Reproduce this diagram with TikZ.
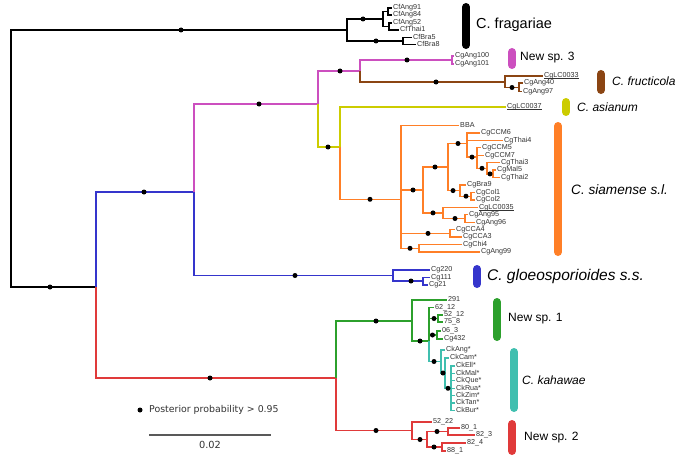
\documentclass[tikz,border=0pt]{standalone}
\usepackage{fontspec}
\setmainfont{Liberation Sans}
\newfontfamily\legfont{DejaVu Sans}
\definecolor{cmag}{HTML}{CC4FBF}
\definecolor{cbrn}{HTML}{8B4513}
\definecolor{cyel}{HTML}{CCCC00}
\definecolor{corg}{HTML}{FF7F27}
\definecolor{cblu}{HTML}{3535CC}
\definecolor{cgrn}{HTML}{2CA02C}
\definecolor{ctea}{HTML}{40BFAF}
\definecolor{cred}{HTML}{E03A3A}
\definecolor{ctxt}{HTML}{333333}
\newcommand\ulx[1]{\setbox0\hbox{#1}\rlap{\rule[-0.9pt]{\wd0}{0.45pt}}\box0}
\tikzset{
 br/.style={line width=1.35pt},
 tip/.style={anchor=west, inner sep=1pt, font=\fontsize{7.2}{7.5}\selectfont, text=ctxt, text height=5.1pt, text depth=1.5pt},
 ppdot/.style={circle, fill=black, inner sep=0pt, minimum size=5pt},
 cbar/.style={line width=8pt, line cap=round},
 clab/.style={anchor=west, inner sep=0pt, font=\fontsize{12}{14}\selectfont},
}
\newcommand\ppd[2]{\node[ppdot] (#1) at (#2) {};}
\begin{document}
\begin{tikzpicture}[x=1pt,y=-1pt]
\useasboundingbox (0,0) rectangle (680,460);
% ---------- internal nodes
\coordinate (root) at (11,158.5);
\coordinate (F0) at (347,30);
\coordinate (F1) at (383,19);
\coordinate (F1a) at (388,11.5);
\coordinate (F1b) at (389,26.5);
\coordinate (F2) at (403,41);
\coordinate (n96) at (96,287);
\coordinate (n194) at (194,192);
\coordinate (n318) at (318,104);
\coordinate (n360) at (360,71);
\coordinate (nM1) at (452,60);
\coordinate (nBr) at (505,82);
\coordinate (nBr2) at (519,87.5);
\coordinate (n340) at (340,147);
\coordinate (N0) at (401,199.3);
\coordinate (A) at (423,190);
\coordinate (B) at (448,167);
\coordinate (D) at (467,143.5);
\coordinate (G) at (477,157.1);
\coordinate (H) at (487,168.3);
\coordinate (I) at (493,173.9);
\coordinate (E) at (460,190.6);
\coordinate (Fc) at (471,196.2);
\coordinate (C) at (443,212.9);
\coordinate (C2) at (465,218.5);
\coordinate (CCA) at (450,233.4);
\coordinate (CHI) at (419,248.3);
\coordinate (nG) at (393,275.5);
\coordinate (nG2) at (423,281);
\coordinate (nR0) at (336,378);
\coordinate (nGr) at (412,321);
\coordinate (J) at (429,341);
\coordinate (P) at (429.01,320.3);
\coordinate (K) at (438,318.5);
\coordinate (L) at (437,335);
\coordinate (M) at (441,361.5);
\coordinate (N) at (445,373);
\coordinate (O) at (451,388.3);
\coordinate (Q) at (412,430.5);
\coordinate (R) at (427,439.5);
\coordinate (S) at (448,431.5);
\coordinate (T) at (442,447);
% ---------- tips
\node[tip] (CfAng91) at (392,8) {CfAng91};
\node[tip] (CfAng84) at (392,15) {CfAng84};
\node[tip] (CfAng52) at (392,23) {CfAng52};
\node[tip] (CfThai1) at (399,30) {CfThai1};
\node[tip] (CfBra5) at (412,37.5) {CfBra5};
\node[tip] (CfBra8) at (416,44.5) {CfBra8};
\node[tip] (CgAng100) at (454,56) {CgAng100};
\node[tip] (CgAng101) at (454,64) {CgAng101};
\node[tip] (CgLC0033) at (543,76) {\ulx{CgLC0033}};
\node[tip] (CgAng40) at (523,83) {CgAng40};
\node[tip] (CgAng97) at (522,91.5) {CgAng97};
\node[tip] (CgLC0037) at (506,107) {\ulx{CgLC0037}};
\node[tip] (BBA) at (459,125.5) {BBA};
\node[tip] (CgCCM6) at (480,133) {CgCCM6};
\node[tip] (CgThai4) at (503,140.4) {CgThai4};
\node[tip] (CgCCM5) at (481,147.8) {CgCCM5};
\node[tip] (CgCCM7) at (484,155.3) {CgCCM7};
\node[tip] (CgThai3) at (500,162.7) {CgThai3};
\node[tip] (CgMal5) at (496,170.1) {CgMal5};
\node[tip] (CgThai2) at (500,177.6) {CgThai2};
\node[tip] (CgBra9) at (466,185) {CgBra9};
\node[tip] (CgCol1) at (475,192.5) {CgCol1};
\node[tip] (CgCol2) at (475,199.9) {CgCol2};
\node[tip] (CgLC0035) at (478,207.3) {\ulx{CgLC0035}};
\node[tip] (CgAng95) at (468,214.8) {CgAng95};
\node[tip] (CgAng96) at (475,222.2) {CgAng96};
\node[tip] (CgCCA4) at (455,229.7) {CgCCA4};
\node[tip] (CgCCA3) at (462,237.1) {CgCCA3};
\node[tip] (CgChi4) at (462,244.5) {CgChi4};
\node[tip] (CgAng99) at (480,252) {CgAng99};
\node[tip] (Cg220) at (430,270) {Cg220};
\node[tip] (Cg111) at (430,277.5) {Cg111};
\node[tip] (Cg21) at (428,285) {Cg21};
\node[tip] (t291) at (447,300) {291};
\node[tip] (t6212) at (434,307.5) {62\_12};
\node[tip] (t5212) at (443,315) {52\_12};
\node[tip] (t758) at (443,322) {75\_8};
\node[tip] (t063) at (441,331) {06\_3};
\node[tip] (Cg432) at (443,339) {Cg432};
\node[tip] (CkAng) at (445,350) {CkAng*};
\node[tip] (CkCam) at (449,358) {CkCam*};
\node[tip] (CkEll) at (455,366) {CkEll*};
\node[tip] (CkMal) at (455,373.4) {CkMal*};
\node[tip] (CkQue) at (455,380.8) {CkQue*};
\node[tip] (CkRua) at (455,388.2) {CkRua*};
\node[tip] (CkZim) at (455,395.6) {CkZim*};
\node[tip] (CkTan) at (455,403) {CkTan*};
\node[tip] (CkBur) at (455,410.4) {CkBur*};
\node[tip] (t5222) at (432,422) {52\_22};
\node[tip] (t801) at (460,428) {80\_1};
\node[tip] (t823) at (475,435) {82\_3};
\node[tip] (t824) at (466,443) {82\_4};
\node[tip] (t881) at (446,451) {88\_1};
% ---------- branches
\begin{scope}[br,black]
\draw (root) |- (F0); \draw (root) |- (n96);
\draw (F0) |- (F1); \draw (F0) |- (F2);
\draw (F1) |- (F1a); \draw (F1) |- (F1b);
\draw (F1a) |- (CfAng91.west); \draw (F1a) |- (CfAng84.west);
\draw (F1b) |- (CfAng52.west); \draw (F1b) |- (CfThai1.west);
\draw (F2) |- (CfBra5.west); \draw (F2) |- (CfBra8.west);
\end{scope}
\begin{scope}[br,cblu]
\draw (n96) |- (n194); \draw (n194) |- (nG);
\draw (nG) |- (Cg220.west); \draw (nG) |- (nG2);
\draw (nG2) |- (Cg111.west); \draw (nG2) |- (Cg21.west);
\end{scope}
\begin{scope}[br,cmag]
\draw (n194) |- (n318); \draw (n318) |- (n360); \draw (n360) |- (nM1);
\draw (nM1) |- (CgAng100.west); \draw (nM1) |- (CgAng101.west);
\end{scope}
\begin{scope}[br,cbrn]
\draw (n360) |- (nBr); \draw (nBr) |- (CgLC0033.west); \draw (nBr) |- (nBr2);
\draw (nBr2) |- (CgAng40.west); \draw (nBr2) |- (CgAng97.west);
\end{scope}
\begin{scope}[br,cyel]
\draw (n318) |- (n340); \draw (n340) |- (CgLC0037.west);
\end{scope}
\begin{scope}[br,corg]
\draw (n340) |- (N0);
\draw (N0) |- (BBA.west); \draw (N0) |- (A); \draw (N0) |- (CCA); \draw (N0) |- (CHI);
\draw (A) |- (B); \draw (A) |- (C);
\draw (B) |- (D); \draw (B) |- (E);
\draw (D) |- (CgCCM6.west); \draw (D) |- (CgThai4.west); \draw (D) |- (G);
\draw (G) |- (CgCCM5.west); \draw (G) |- (CgCCM7.west); \draw (G) |- (H);
\draw (H) |- (CgThai3.west); \draw (H) |- (I);
\draw (I) |- (CgMal5.west); \draw (I) |- (CgThai2.west);
\draw (E) |- (CgBra9.west); \draw (E) |- (Fc);
\draw (Fc) |- (CgCol1.west); \draw (Fc) |- (CgCol2.west);
\draw (C) |- (CgLC0035.west); \draw (C) |- (C2);
\draw (C2) |- (CgAng95.west); \draw (C2) |- (CgAng96.west);
\draw (CCA) |- (CgCCA4.west); \draw (CCA) |- (CgCCA3.west);
\draw (CHI) |- (CgChi4.west); \draw (CHI) |- (CgAng99.west);
\end{scope}
\begin{scope}[br,cred]
\draw (n96) |- (nR0); \draw (nR0) |- (Q);
\draw (Q) |- (t5222.west); \draw (Q) |- (R);
\draw (R) |- (S); \draw (R) |- (T);
\draw (S) |- (t801.west); \draw (S) |- (t823.west);
\draw (T) |- (t824.west); \draw (T) |- (t881.west);
\end{scope}
\begin{scope}[br,cgrn]
\draw (nR0) |- (nGr); \draw (nGr) |- (t291.west); \draw (nGr) |- (J);
\draw (J) |- (P);
\draw (P) |- (t6212.west); \draw (P) |- (K); \draw (P) |- (L);
\draw (K) |- (t5212.west); \draw (K) |- (t758.west);
\draw (L) |- (t063.west); \draw (L) |- (Cg432.west);
\end{scope}
\begin{scope}[br,ctea]
\draw (J) |- (M); \draw (M) |- (CkAng.west); \draw (M) |- (N);
\draw (N) |- (CkCam.west); \draw (N) |- (O);
\foreach \t in {CkEll,CkMal,CkQue,CkRua,CkZim,CkTan,CkBur} \draw (O) |- (\t.west);
\end{scope}
% ---------- posterior dots
\ppd{d1}{181,30} \ppd{d2}{363,19} \ppd{d3}{376,41} \ppd{d4}{50,287}
\ppd{d5}{144,192} \ppd{d6}{295,275.5} \ppd{d7}{411,281}
\ppd{d8}{259,104} \ppd{d9}{340,71} \ppd{d10}{407,60}
\ppd{d11}{436,82} \ppd{d12}{512,87.5} \ppd{d13}{328,147}
\ppd{d14}{370,199.3} \ppd{d15}{413,190} \ppd{d16}{435,167} \ppd{d17}{458,143.5}
\ppd{d18}{472,157.1} \ppd{d19}{482,168.3} \ppd{d20}{490,173.9} \ppd{d21}{453,190.6}
\ppd{d22}{466,196.2} \ppd{d23}{433,212.9} \ppd{d24}{455,218.5} \ppd{d25}{428,233.4}
\ppd{d26}{410,248.3}
\ppd{d27}{210,378} \ppd{d28}{376,430.5} \ppd{d29}{420,439.5} \ppd{d30}{437,431.5}
\ppd{d31}{434,447} \ppd{d32}{376,321} \ppd{d33}{420,341} \ppd{d34}{434,318.5}
\ppd{d35}{432.5,335} \ppd{d36}{434,361.5} \ppd{d37}{443,373} \ppd{d38}{448,388.3}
% ---------- clade bars and labels
\draw[cbar,black] (466,7) coordinate (b1a) -- (466,45) coordinate (b1b);
\node[clab,font=\fontsize{14.5}{16}\selectfont] (l1) at (476,25) {C. fragariae};
\draw[cbar,cmag] (512,52) coordinate (b2a) -- (512,65) coordinate (b2b);
\node[clab] (l2) at (520,58) {New sp. 3};
\draw[cbar,cbrn] (601,74) coordinate (b3a) -- (601,90) coordinate (b3b);
\node[clab] (l3) at (612,81) {\itshape C. fructicola};
\draw[cbar,cyel] (566,102) coordinate (b4a) -- (566,112) coordinate (b4b);
\node[clab] (l4) at (577,107) {\itshape C. asianum};
\draw[cbar,corg] (558,126) coordinate (b5a) -- (558,252) coordinate (b5b);
\node[clab,font=\fontsize{13.6}{15}\selectfont] (l5) at (571,190) {\itshape C. siamense s.l.};
\draw[cbar,cblu] (477,269) coordinate (b6a) -- (477,284) coordinate (b6b);
\node[clab,font=\fontsize{15.5}{17}\selectfont] (l6) at (487,276) {\itshape C. gloeosporioides s.s.};
\draw[cbar,cgrn] (497,302) coordinate (b7a) -- (497,337) coordinate (b7b);
\node[clab] (l7) at (508,319) {New sp. 1};
\draw[cbar,ctea] (514,352) coordinate (b8a) -- (514,408) coordinate (b8b);
\node[clab] (l8) at (522,380) {\itshape C. kahawae};
\draw[cbar,cred] (512,424) coordinate (b9a) -- (512,451) coordinate (b9b);
\node[clab] (l9) at (524,438) {New sp. 2};
% ---------- legend and scale
\node[ppdot] (legdot) at (140,410) {};
\node[anchor=west, inner sep=0pt, font=\legfont\fontsize{9.4}{11}\selectfont, text=ctxt] (legtxt) at (149,410) {Posterior probability > 0.95};
\draw[line width=2pt, black!65] (149,435) coordinate (sa) -- (271,435) coordinate (sb);
\node[font=\legfont\fontsize{9.8}{11}\selectfont, text=ctxt, inner sep=0pt] (slab) at (210,444.5) {0.02};
\end{tikzpicture}
\end{document}
